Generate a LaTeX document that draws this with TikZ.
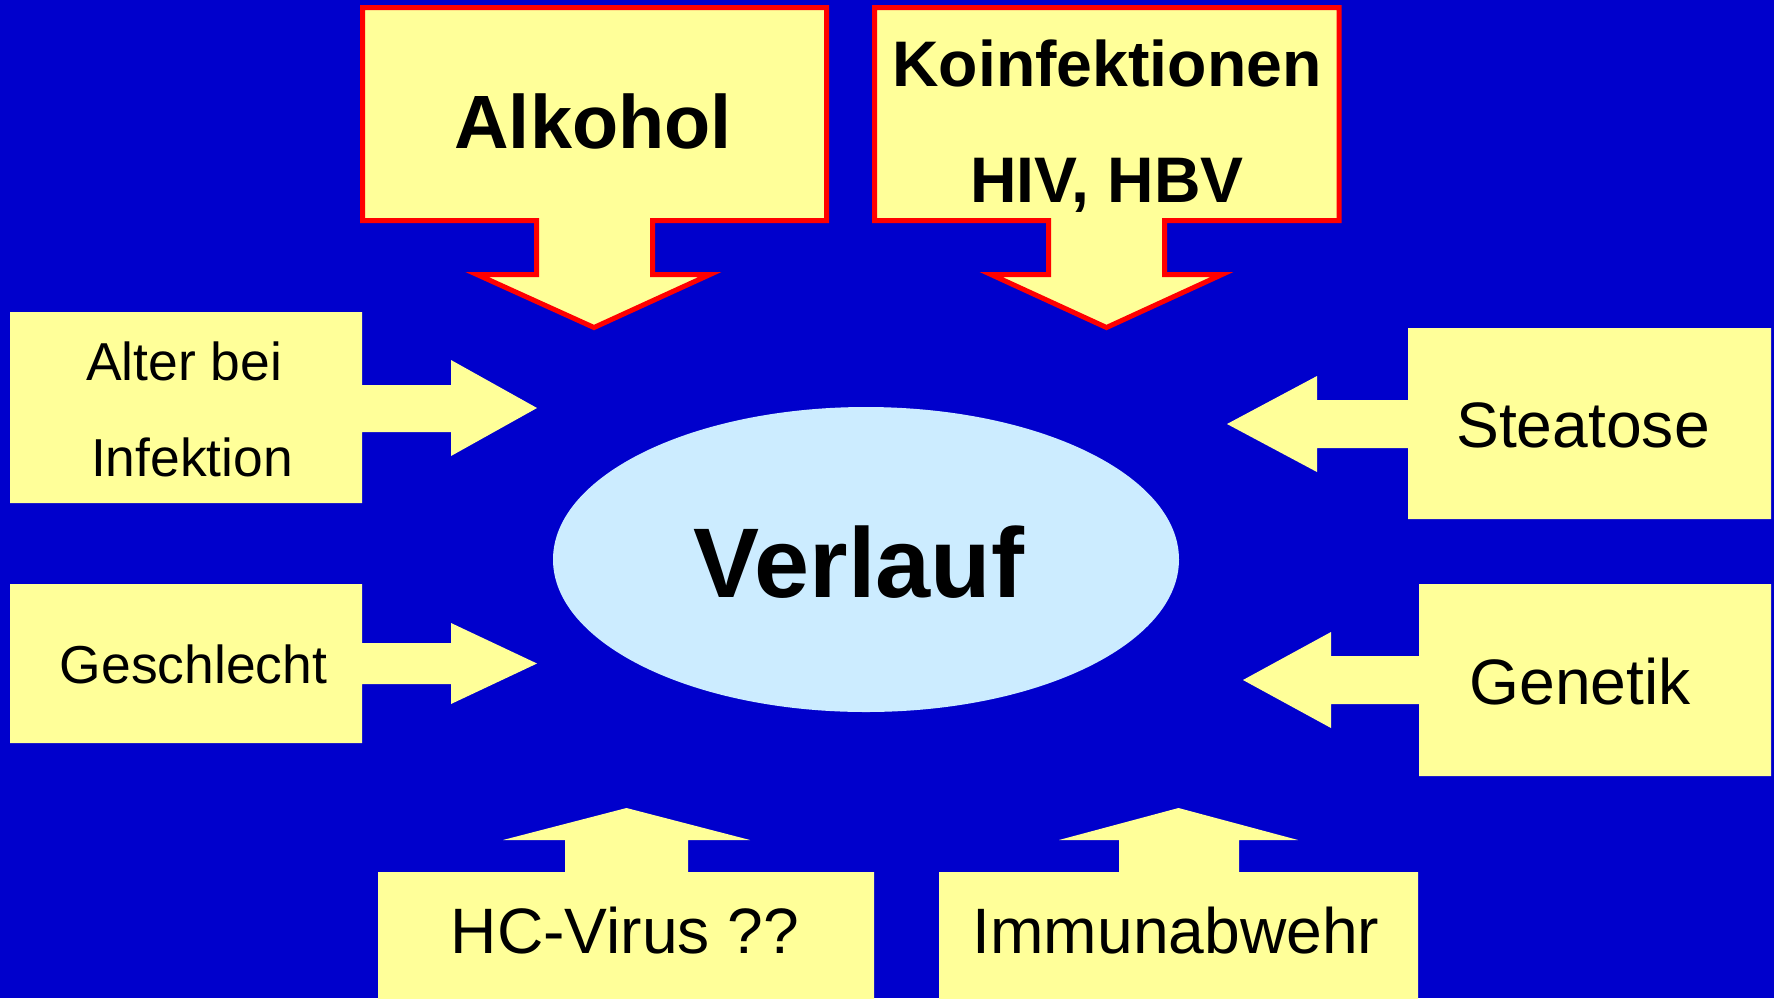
\documentclass[tikz,border=0pt]{standalone}
\usepackage{fontspec}
\setmainfont{Liberation Sans}
\usetikzlibrary{shapes.geometric}
\definecolor{bgblue}{HTML}{0000CC}
\definecolor{paleyellow}{HTML}{FFFF99}
\definecolor{lightblue}{HTML}{CCECFF}
\definecolor{pptred}{HTML}{FF0000}
\begin{document}
\begin{tikzpicture}[x=0.5pt,y=-0.5pt,
  callout/.style={fill=paleyellow},
  redcallout/.style={fill=paleyellow,draw=pptred,line width=2.5pt,line join=miter},
  lbl/.style={anchor=base,inner sep=0pt,text=black},
  bigbold/.style={font=\fontsize{37.8}{45}\selectfont\bfseries},
  midbold/.style={font=\fontsize{32.2}{38}\selectfont\bfseries},
  plain/.style={font=\fontsize{32.1}{38}\selectfont},
  small/.style={font=\fontsize{26.7}{32}\selectfont},
]
\fill[bgblue] (0,0) rectangle (1774,998);
\useasboundingbox (0,0) rectangle (1774,998);

% top callouts with red border
\path[redcallout] (362.5,7.5) -- (826.5,7.5) -- (826.5,220.5) -- (652.5,220.5) -- (652.5,274.5) -- (710,274.5) -- (594,327.5) -- (477,274.5) -- (536.5,274.5) -- (536.5,220.5) -- (362.5,220.5) -- cycle;
\path[redcallout] (874.5,7.5) -- (1339,7.5) -- (1339,220.5) -- (1164.5,220.5) -- (1164.5,274.5) -- (1222,274.5) -- (1106.5,327.5) -- (991,274.5) -- (1048.5,274.5) -- (1048.5,220.5) -- (874.5,220.5) -- cycle;

% left callouts
\path[callout] (10,312) -- (362,312) -- (362,385) -- (451,385) -- (451,360) -- (537,408) -- (451,456) -- (451,432) -- (362,432) -- (362,503) -- (10,503) -- cycle;
\path[callout] (10,584) -- (362,584) -- (362,643) -- (451,643) -- (451,623) -- (537,663.5) -- (451,704) -- (451,684) -- (362,684) -- (362,743) -- (10,743) -- cycle;

% right callouts
\path[callout] (1771,328) -- (1408,328) -- (1408,400) -- (1317,400) -- (1317,376) -- (1227,424) -- (1317,472) -- (1317,448) -- (1408,448) -- (1408,519) -- (1771,519) -- cycle;
\path[callout] (1771,584) -- (1419,584) -- (1419,656) -- (1331,656) -- (1331,632) -- (1243,680) -- (1331,728) -- (1331,704) -- (1419,704) -- (1419,776) -- (1771,776) -- cycle;

% bottom callouts
\path[callout] (378,1000) -- (378,872) -- (565,872) -- (565,840) -- (503,840) -- (626.5,808) -- (750,840) -- (688,840) -- (688,872) -- (874,872) -- (874,1000) -- cycle;
\path[callout] (939,1000) -- (939,872) -- (1119,872) -- (1119,840) -- (1059,840) -- (1178.5,808) -- (1298,840) -- (1239,840) -- (1239,872) -- (1418,872) -- (1418,1000) -- cycle;

% central ellipse
\node[ellipse, fill=lightblue, inner sep=0pt, minimum width=313pt, minimum height=152.5pt] (ell) at (866,559.5) {};
\node[lbl, font=\fontsize{49.5}{59}\selectfont\bfseries] (verlauf) at (859,597) {Verlauf};

% labels
\node[lbl, bigbold] (alkohol) at (593,148) {Alkohol};
\node[lbl, midbold] (koinf) at (1107,86) {Koinfektionen};
\node[lbl, midbold] (hivhbv) at (1107,202) {HIV, HBV};
\node[lbl, small] (alter) at (184,380) {Alter bei};
\node[lbl, small] (infektion) at (192,476) {Infektion};
\node[lbl, small] (geschlecht) at (193.5,683) {Geschlecht};
\node[lbl, plain] (steatose) at (1583,447) {Steatose};
\node[lbl, plain] (genetik) at (1580,704) {Genetik};
\node[lbl, plain] (hcvirus) at (625,953) {HC-Virus ??};
\node[lbl, plain] (immun) at (1176,953) {Immunabwehr};
\end{tikzpicture}
\end{document}
